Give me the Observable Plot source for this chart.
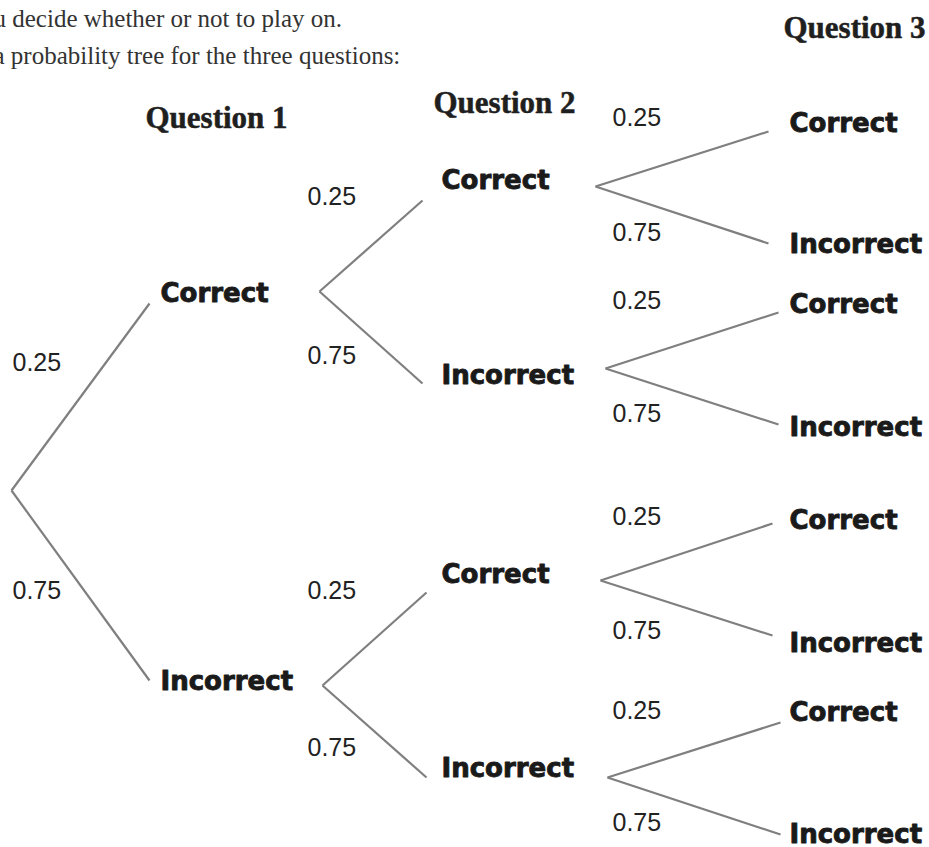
<!DOCTYPE html>
<html>
<head>
<meta charset="utf-8">
<script src="https://cdn.jsdelivr.net/npm/d3@7"></script>
<script src="https://cdn.jsdelivr.net/npm/@observablehq/plot@0.6"></script>
<style>
  html, body { margin: 0; padding: 0; background: #fff; overflow: hidden; }
  #chart svg { display: block; }
</style>
</head>
<body>
<div id="chart"></div>
<script>
// ---- data ----
const questions = ["Question 1", "Question 2", "Question 3"];
const outcomes = ["Correct", "Incorrect"];
const probabilities = [0.25, 0.75];
const introLines = ["u decide whether or not to play on.", "a probability tree for the three questions:"];

const forkPos = {"": [11, 490], C: [319, 291], I: [322, 685],
  CC: [595, 186], CI: [605, 368], IC: [600, 580], II: [607, 777]};
const tipPos = {C: [149, 303], I: [149, 680],
  CC: [422, 200], CI: [422, 383], IC: [426, 592], II: [426, 777],
  CCC: [768, 131], CCI: [768, 243], CIC: [778, 312], CII: [778, 424],
  ICC: [772, 523], ICI: [772, 635], IIC: [780, 722], III: [780, 834]};
const labelPos = {C: [160, 293], I: [160, 681],
  CC: [441, 180], CI: [441, 375], IC: [441, 574], II: [441, 768],
  CCC: [789, 123], CCI: [789, 244], CIC: [789, 304], CII: [789, 427],
  ICC: [789, 520], ICI: [789, 643], IIC: [789, 712], III: [789, 834]};
const probPos = {C: [12, 362], I: [12, 590],
  CC: [307, 196], CI: [307, 355], IC: [307, 590], II: [307, 747],
  CCC: [612, 117], CCI: [612, 232], CIC: [612, 300], CII: [612, 413],
  ICC: [612, 516], ICI: [612, 630], IIC: [612, 710], III: [612, 822]};
const headerPos = [[145, 127], [433, 112], [783, 37]];
const introPos = [[-7, 26], [-7, 63]];

// ---- build tree nodes from data ----
const codes = outcomes.map(o => o[0]);
let nodes = [];
let level = [""];
for (let d = 0; d < questions.length; d++) {
  const next = [];
  for (const parent of level) {
    outcomes.forEach((o, i) => {
      const path = parent + codes[i];
      nodes.push({path, parent, label: o, prob: probabilities[i], depth: d});
      next.push(path);
    });
  }
  level = next;
}
const headers = questions.map((q, i) => ({text: q, x: headerPos[i][0], y: headerPos[i][1]}));
const intro = introLines.map((t, i) => ({text: t, x: introPos[i][0], y: introPos[i][1]}));

const chart = Plot.plot({
  width: 929,
  height: 847,
  margin: 0,
  x: {domain: [0, 929], range: [0, 929], axis: null},
  y: {domain: [0, 847], range: [0, 847], axis: null},
  marks: [
    Plot.link(nodes, {
      x1: d => forkPos[d.parent][0], y1: d => forkPos[d.parent][1],
      x2: d => tipPos[d.path][0], y2: d => tipPos[d.path][1],
      stroke: "#7f7f7f", strokeWidth: 2.2
    }),
    Plot.text(nodes, {
      x: d => labelPos[d.path][0], y: d => labelPos[d.path][1], text: "label",
      textAnchor: "start", lineAnchor: "middle",
      fontFamily: "DejaVu Sans", fontWeight: "bold", fontSize: 26,
      fill: "#1a1a1a", stroke: "#1a1a1a", strokeWidth: 0.9
    }),
    Plot.text(nodes, {
      x: d => probPos[d.path][0], y: d => probPos[d.path][1], text: d => d3.format(".2f")(d.prob),
      textAnchor: "start", lineAnchor: "middle",
      fontFamily: "Liberation Sans", fontSize: 25, fill: "#222"
    }),
    Plot.text(headers, {
      x: "x", y: "y", text: "text", textAnchor: "start", lineAnchor: "bottom",
      fontFamily: "Liberation Serif", fontWeight: "bold", fontSize: 31, fill: "#1f1f1f",
      stroke: "#1f1f1f", strokeWidth: 0.5
    }),
    Plot.text(intro, {
      x: "x", y: "y", text: "text", textAnchor: "start", lineAnchor: "bottom",
      fontFamily: "Liberation Serif", fontSize: 25, fill: "#333"
    })
  ]
});
document.getElementById("chart").appendChild(chart);
</script>
</body>
</html>
